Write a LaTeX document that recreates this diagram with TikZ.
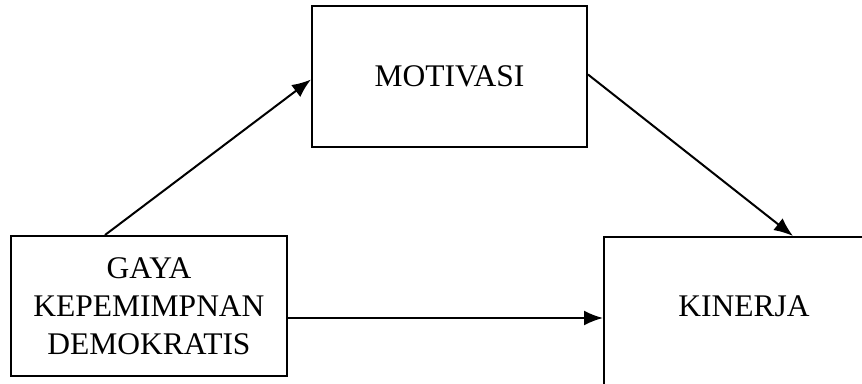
\documentclass[tikz,border=0pt]{standalone}
\usepackage{fontspec}
\setmainfont{Liberation Serif}
\usetikzlibrary{arrows.meta}

\begin{document}
\begin{tikzpicture}[x=1pt,y=-1pt,>={Latex[length=19pt,width=15pt]},
  box/.style={draw,line width=2pt,inner sep=0pt,font=\fontsize{31.5}{38}\selectfont},
  link/.style={->,line width=2pt}]
\useasboundingbox (0,0) rectangle (862,383);
\clip (0,0) rectangle (862,383);
\node[box,minimum width=276pt,minimum height=140pt,align=center] (gaya) at (149,306) {GAYA\\KEPEMIMPNAN\\DEMOKRATIS};
\node[box,minimum width=275pt,minimum height=141pt] (motivasi) at (449.5,76.5) {MOTIVASI};
\node[box,anchor=north west,minimum width=280pt,text height=79pt,text depth=75pt] (kinerja) at (603,236) {KINERJA};

\coordinate (lower) at ([yshift=-12pt]gaya.east);
\draw[link] ([xshift=95pt]gaya.north west) -- ([yshift=-3pt]motivasi.west);
\draw[link] ([yshift=2pt]motivasi.east) -- ([xshift=190pt]kinerja.north west);
\draw[link] (lower) -- (lower -| kinerja.west);
\end{tikzpicture}
\end{document}
